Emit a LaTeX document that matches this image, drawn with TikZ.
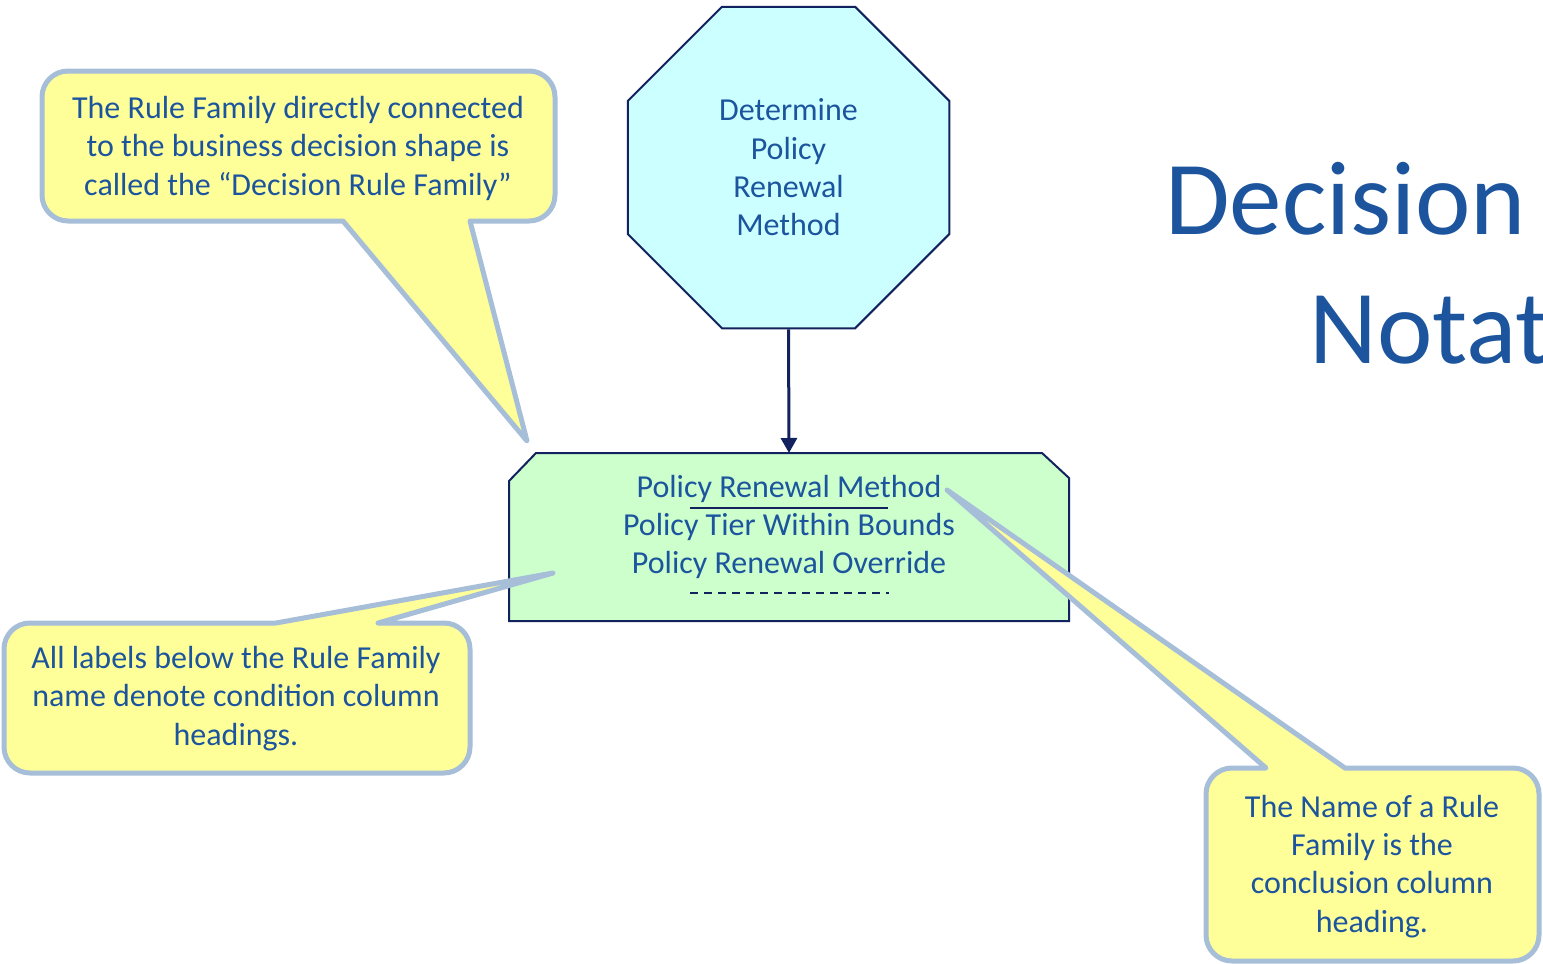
\documentclass[tikz,border=0pt]{standalone}
\usepackage{fontspec}
\setmainfont{Carlito}
\usetikzlibrary{arrows.meta,shapes.geometric}

\definecolor{inkblue}{RGB}{28,84,158}
\definecolor{navy}{RGB}{18,34,94}
\definecolor{octfill}{RGB}{204,255,255}
\definecolor{rffill}{RGB}{204,255,204}
\definecolor{notefill}{RGB}{255,255,153}
\definecolor{noteedge}{RGB}{167,190,217}

\begin{document}
\begin{tikzpicture}[x=1pt,y=-1pt,
  txt/.style={text=inkblue, font=\fontsize{32}{38.3}\selectfont, align=center, inner sep=0pt},
  titletxt/.style={text=inkblue, font=\fontsize{105}{126}\selectfont, inner sep=0pt, anchor=base west},
  note/.style={fill=notefill, draw=noteedge, line width=5pt, line join=round},
  edge/.style={draw=navy, line width=2pt}]

\useasboundingbox (0,0) rectangle (1543,964);
\clip (0,0) rectangle (1543,964);

% title, running off the right edge
\node[titletxt] (title1) at (1165,234) {Decision};
\node[titletxt] (title2) at (1309,363) {Notat};

% business decision (octagon)
\node[regular polygon, regular polygon sides=8, minimum size=348pt,
      edge, fill=octfill, inner sep=0pt, txt] (oct) at (788.5,167.5)
      {Determine\\Policy\\Renewal\\Method};

% rule family box with chamfered top corners
\node[minimum width=560pt, minimum height=168pt, inner sep=0pt, outer sep=0pt] (rf) at (789,537) {};
\draw[edge, fill=rffill]
  ([xshift=27pt]rf.north west) -- ([xshift=-27pt]rf.north east)
  -- ([yshift=-25pt]rf.north east) -- (rf.south east)
  -- (rf.south west) -- ([yshift=-28pt]rf.north west) -- cycle;
\node[txt, anchor=base] (rf1) at (789,497) {Policy Renewal Method};
\node[txt, anchor=base] (rf2) at (789,535) {Policy Tier Within Bounds};
\node[txt, anchor=base] (rf3) at (789,573) {Policy Renewal Override};
\draw[navy, line width=2pt] (690,508) -- (888,508);
\draw[navy, line width=1.8pt, dash pattern=on 8pt off 6pt] (690,593) -- (889,593);

% decision to rule family
\draw[navy, line width=3pt, -{Triangle[length=15pt,width=16pt]}] (oct.south) -- (rf.north);

% callout: decision rule family
\draw[note] (68,71) -- (529,71) arc[start angle=-90,end angle=0,radius=26]
  -- (555,195) arc[start angle=0,end angle=90,radius=26]
  -- (470,221) -- (527,441) -- (343,221)
  -- (68,221) arc[start angle=90,end angle=180,radius=26]
  -- (42,97) arc[start angle=180,end angle=270,radius=26] -- cycle;
\node[txt, anchor=base] (c1) at (298,195)
  {The Rule Family directly connected\\to the business decision shape is\\called the “Decision Rule Family”};

% callout: condition column headings
\draw[note] (30,623) -- (276,623) -- (553,573) -- (378,623)
  -- (444,623) arc[start angle=-90,end angle=0,radius=26]
  -- (470,747) arc[start angle=0,end angle=90,radius=26]
  -- (30,773) arc[start angle=90,end angle=180,radius=26]
  -- (4,649) arc[start angle=180,end angle=270,radius=26] -- cycle;
\node[txt, anchor=base] (c2) at (236,745)
  {All labels below the Rule Family\\name denote condition column\\headings.};

% callout: conclusion column heading
\draw[note] (1232,768) -- (1266,768) -- (947,490) -- (1345,768)
  -- (1513,768) arc[start angle=-90,end angle=0,radius=26]
  -- (1539,935) arc[start angle=0,end angle=90,radius=26]
  -- (1232,961) arc[start angle=90,end angle=180,radius=26]
  -- (1206,794) arc[start angle=180,end angle=270,radius=26] -- cycle;
\node[txt, anchor=base] (c3) at (1372,932)
  {The Name of a Rule\\Family is the\\conclusion column\\heading.};

\end{tikzpicture}
\end{document}
